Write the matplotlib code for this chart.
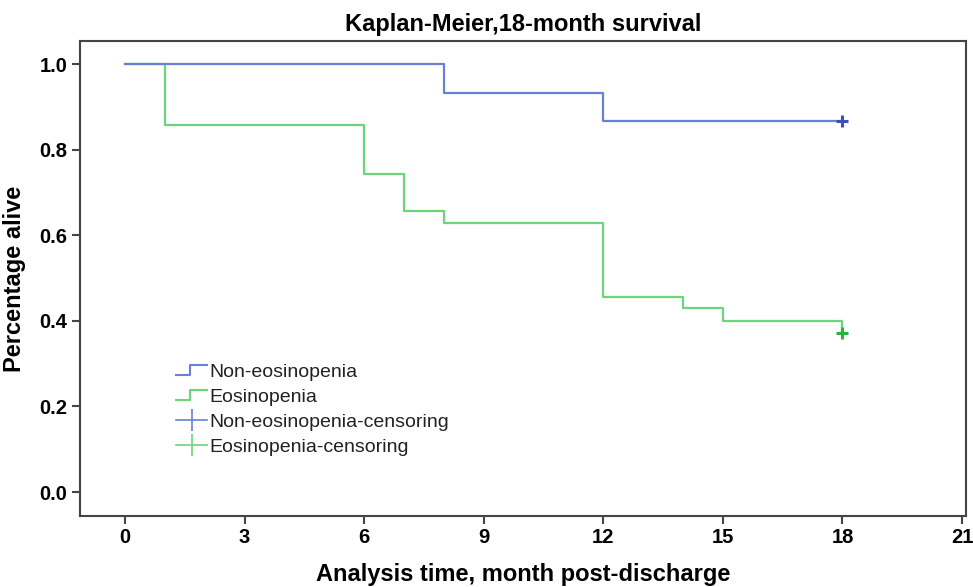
import matplotlib
matplotlib.use("Agg")
import matplotlib.pyplot as plt
from matplotlib.lines import Line2D
from matplotlib.legend_handler import HandlerBase

plt.rcParams['font.family'] = ['Liberation Sans', 'DejaVu Sans']

# Data (Kaplan-Meier step values)
eos_times = [0, 1, 6, 7, 8, 12, 14, 15, 18]
eos_surv = [1.0, 0.857, 0.743, 0.657, 0.629, 0.457, 0.429, 0.400, 0.371]
non_times = [0, 8, 12, 18]
non_surv = [1.0, 0.933, 0.867, 0.867]
eos_censor_t = [18]
eos_censor_s = [0.371]
non_censor_t = [18]
non_censor_s = [0.867]
xticks = [0, 3, 6, 9, 12, 15, 18, 21]
yticks = [0.0, 0.2, 0.4, 0.6, 0.8, 1.0]

blue = '#6a80d4'
green = '#6cd47a'
blue_dark = '#3a52b8'
green_dark = '#27b23f'

fig = plt.figure(figsize=(9.73, 5.87), dpi=100)
ax = fig.add_axes([0.0822, 0.121, 0.9106, 0.809])

ax.step(non_times, non_surv, where='post', color=blue, lw=1.6, zorder=3)
ax.step(eos_times, eos_surv, where='post', color=green, lw=1.6, zorder=2)
ax.plot(non_censor_t, non_censor_s, ls='none', marker='+', ms=9, mew=2.2, color=blue_dark, zorder=4)
ax.plot(eos_censor_t, eos_censor_s, ls='none', marker='+', ms=9, mew=2.2, color=green_dark, zorder=4)

ax.set_xlim(-1.13, 21.1)
ax.set_ylim(-0.056, 1.054)
ax.set_xticks(xticks)
ax.set_xticklabels([str(t) for t in xticks])
ax.set_yticks(yticks)
ax.set_yticklabels([f"{v:.1f}" for v in yticks])
for s in ax.spines.values():
    s.set_color('#444444')
    s.set_linewidth(1.5)
ax.tick_params(direction='out', length=6, width=1.5, color='#444444', labelsize=14.5, pad=3)
for lab in ax.get_xticklabels() + ax.get_yticklabels():
    lab.set_fontweight('bold')

ax.set_title('Kaplan-Meier,18-month survival', fontsize=17, fontweight='bold', pad=7)
ax.set_xlabel('Analysis time, month post-discharge', fontsize=17, fontweight='bold', labelpad=11)
ax.set_ylabel('Percentage alive', fontsize=17, fontweight='bold', labelpad=10)


class StepHandler(HandlerBase):
    def __init__(self, color):
        super().__init__()
        self.color = color

    def create_artists(self, legend, orig_handle, xdescent, ydescent, width, height, fontsize, trans):
        x0 = -xdescent
        y0 = -ydescent
        xs = [x0, x0 + width * 0.45, x0 + width * 0.45, x0 + width]
        ys = [y0 + height * 0.15, y0 + height * 0.15, y0 + height * 0.85, y0 + height * 0.85]
        ln = Line2D(xs, ys, color=self.color, lw=1.5, transform=trans)
        return [ln]


h1 = Line2D([], [], color=blue)
h2 = Line2D([], [], color=green)
h3 = Line2D([], [], color=blue, lw=1.2, marker='|', ms=16, mew=1.2)
h4 = Line2D([], [], color=green, lw=1.2, marker='|', ms=16, mew=1.2)

leg = ax.legend([h1, h2, h3, h4],
                ['Non-eosinopenia', 'Eosinopenia', 'Non-eosinopenia-censoring', 'Eosinopenia-censoring'],
                handler_map={h1: StepHandler(blue), h2: StepHandler(green)},
                loc='upper left', bbox_to_anchor=(0.1, 0.338), frameon=False,
                fontsize=14, handlelength=1.6, handletextpad=0.1, labelspacing=0.38,
                borderaxespad=0, numpoints=1)
for t in leg.get_texts():
    t.set_color('#222222')

fig.savefig('out.png', dpi=100)
